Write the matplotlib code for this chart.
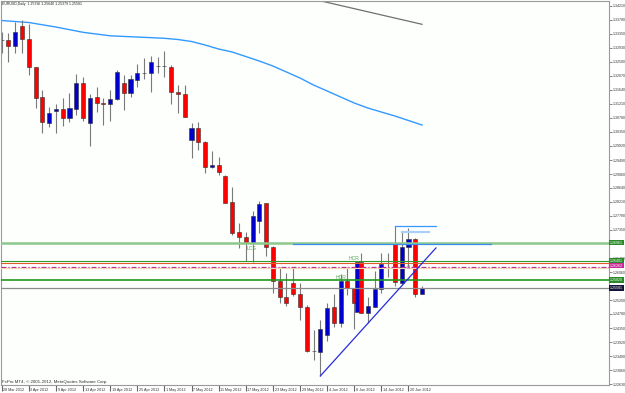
import matplotlib
matplotlib.use('Agg')
import matplotlib.pyplot as plt
from matplotlib.transforms import blended_transform_factory

plt.rcParams['font.family'] = ['Liberation Sans', 'DejaVu Sans']

header_text = "EURUSD,Daily  1.25396 1.25640 1.25379 1.25581"
copyright_text = "FxPro MT4, \u00a9 2001-2012, MetaQuotes Software Corp."

# ---- daily OHLC, 28 Mar 2012 .. 22 Jun 2012 ----
opens = [1.33151, 1.33161, 1.32986, 1.33589, 1.33191, 1.32326, 1.31408, 1.30631, 1.30998, 1.31050,
         1.30784, 1.31050, 1.31855, 1.30631, 1.31408, 1.31234, 1.31212, 1.31347, 1.31836, 1.31530,
         1.31937, 1.32154, 1.32160, 1.32356, 1.32371, 1.32344, 1.31561, 1.31509, 1.30102, 1.30478,
         1.30050, 1.29267, 1.29337, 1.29010, 1.28215, 1.27279, 1.27144, 1.26961, 1.27625, 1.28166,
         1.26838, 1.25799, 1.25291, 1.25719, 1.25392, 1.25003, 1.23650, 1.23627, 1.24138, 1.24985,
         1.24514, 1.25799, 1.25566, 1.26380, 1.24820, 1.25003, 1.25535, 1.26340, 1.26921, 1.25737,
         1.26820, 1.27065, 1.25396]
highs = [1.33414, 1.33384, 1.33720, 1.33772, 1.33650, 1.32344, 1.31631, 1.31102, 1.31203, 1.31396,
         1.31549, 1.32121, 1.32038, 1.31509, 1.31714, 1.31377, 1.31631, 1.32243, 1.32090, 1.32090,
         1.32427, 1.32601, 1.32680, 1.32650, 1.32824, 1.32396, 1.31784, 1.31784, 1.30631, 1.30662,
         1.30071, 1.29775, 1.29573, 1.29031, 1.28674, 1.27573, 1.27297, 1.27930, 1.28245, 1.28184,
         1.26860, 1.26227, 1.26025, 1.26227, 1.25719, 1.25055, 1.24291, 1.24581, 1.25107, 1.25392,
         1.25994, 1.26209, 1.25575, 1.26655, 1.25309, 1.26095, 1.26637, 1.26637, 1.27472, 1.27297,
         1.27401, 1.27105, 1.25640]
lows = [1.32754, 1.32497, 1.32754, 1.32754, 1.32090, 1.31072, 1.30325, 1.30490, 1.30307, 1.30530,
        1.30662, 1.30867, 1.30683, 1.29918, 1.30968, 1.30561, 1.30683, 1.31325, 1.31020, 1.31426,
        1.31714, 1.31959, 1.31561, 1.32142, 1.32038, 1.31203, 1.30937, 1.30806, 1.29542, 1.29796,
        1.29083, 1.29236, 1.29031, 1.28175, 1.27196, 1.26790, 1.26410, 1.26380, 1.27248, 1.26554,
        1.25431, 1.25126, 1.25025, 1.25331, 1.24597, 1.23609, 1.23373, 1.22884, 1.23954, 1.24392,
        1.24392, 1.25361, 1.24312, 1.24801, 1.24495, 1.24985, 1.25413, 1.25921, 1.25637, 1.25667,
        1.26218, 1.25300, 1.25379]
closes = [1.33170, 1.32986, 1.33405, 1.33182, 1.32326, 1.31396, 1.30653, 1.30919, 1.31041, 1.30784,
          1.31072, 1.31855, 1.30766, 1.31396, 1.31243, 1.31215, 1.31356, 1.32173, 1.31530, 1.31959,
          1.32160, 1.32166, 1.32497, 1.32371, 1.32356, 1.31561, 1.31509, 1.30815, 1.30478, 1.30050,
          1.29267, 1.29337, 1.29132, 1.28184, 1.27267, 1.27144, 1.26961, 1.27777, 1.28145, 1.26820,
          1.25799, 1.25309, 1.25126, 1.25392, 1.25003, 1.23640, 1.23650, 1.24312, 1.24973, 1.24495,
          1.25799, 1.25584, 1.25126, 1.24820, 1.25025, 1.25554, 1.26309, 1.26355, 1.25750, 1.26820,
          1.27065, 1.25392, 1.25581]

# extra blue block drawn next to 11 Jun bar
extra_block = {"bar": 52.4, "top": 1.26380, "bottom": 1.24850}

# moving averages
ma_blue_bars = [0, 4, 8, 12, 16, 20, 24, 26, 28, 30, 32, 34, 36, 38, 40, 42, 44, 46, 48, 50, 52, 54, 56, 58, 60, 62]
ma_blue_vals = [1.33757, 1.33696, 1.33558, 1.33396, 1.33289, 1.33252, 1.33213, 1.33176, 1.33115, 1.33008,
                1.32885, 1.32794, 1.32656, 1.32518, 1.32365, 1.32182, 1.31998, 1.31784, 1.31601, 1.31417,
                1.31234, 1.31081, 1.30958, 1.30836, 1.30698, 1.30561]
ma_gray_bars = [44, 50, 56, 62]
ma_gray_vals = [1.34503, 1.34216, 1.33928, 1.33641]

# horizontal levels
level_lightgreen = 1.26961
level_green_a = 1.26401
level_red = 1.26331
level_pink = 1.26227
level_beige = 1.26178
level_green_b = 1.25820
bid_price = 1.25581

blue_level = {"price": 1.26921, "start": 43.0, "end": 72.2}
top_level = {"price": 1.27472, "start": 58.0, "end": 64.05}
light_level = {"price": 1.27297, "start": 59.0, "end": 63.0}
trend_bars = [47, 64.05]
trend_prices = [1.22884, 1.26800]

annotations = [("LCS", 36.9, 1.26790), ("HCR", 52.0, 1.26471), ("HCR", 50.0, 1.25897)]
zero_label = ("0", 60.0, 1.26202)

date_bars = [0, 4, 8, 12, 16, 20, 24, 28, 32, 36, 40, 44, 48, 52, 56, 60]
date_labels = ["28 Mar 2012", "3 Apr 2012", "9 Apr 2012", "13 Apr 2012", "19 Apr 2012", "25 Apr 2012",
               "1 May 2012", "7 May 2012", "11 May 2012", "17 May 2012", "23 May 2012", "29 May 2012",
               "4 Jun 2012", "8 Jun 2012", "14 Jun 2012", "20 Jun 2012"]

price_ticks = [1.34210, 1.33780, 1.33350, 1.32930, 1.32500, 1.32070, 1.31640, 1.31210, 1.30780, 1.30350,
               1.29920, 1.29490, 1.29060, 1.28640, 1.28210, 1.27780, 1.27350, 1.26920, 1.26490, 1.26060,
               1.25630, 1.25200, 1.24780, 1.24350, 1.23920, 1.23490, 1.23060, 1.22630]
# tick labels that sit under the coloured price boxes
covered_ticks = [1.26920, 1.25630]

price_boxes = [(1.26961, "#2a8a2a", "white"), (1.26401, "#2a8a2a", "white"),
               (1.26262, "#cc2a9a", "white"), (1.25820, "#2a8a2a", "white"),
               (1.25581, "#141438", "white")]

# ---------------- figure ----------------
fig = plt.figure(figsize=(6.25, 3.93), dpi=100)
fig.patch.set_facecolor('white')
ax = fig.add_axes([1 / 625, 8 / 393, 607.5 / 625, 384 / 393])
ax.set_facecolor('#fdfffd')
ax.set_xlim(-0.1, 89.5)
ax.set_ylim(1.22608, 1.34354)

BLUE = '#0000cc'
RED = '#ff0000'
WICK = '#7a7a7a'
width = 0.6

n = len(opens)
xs = list(range(n))

ax.plot(ma_blue_bars, ma_blue_vals, color='#3399ff', lw=1.0, zorder=1)
ax.plot(ma_gray_bars, ma_gray_vals, color='#707070', lw=0.9, zorder=1)

ax.vlines(xs, lows, highs, color=WICK, lw=0.8, zorder=2)

ax.bar([extra_block["bar"]], [extra_block["top"] - extra_block["bottom"]], width=width,
       bottom=[extra_block["bottom"]], color=BLUE, edgecolor='#303030', lw=0.4, zorder=2.5)

for i in range(n):
    o, c = opens[i], closes[i]
    if abs(c - o) < 1e-6:
        col = '#404040'
    elif c > o:
        col = BLUE
    else:
        col = RED
    h = max(abs(c - o), 0.00010)
    z = 3 if i == 53 else 2.4
    ax.bar([i], [h], width=width, bottom=[min(o, c)], color=col, edgecolor='#303030', lw=0.4, zorder=z)

ax.axhline(level_lightgreen, color='#8cc88c', lw=1.8, zorder=3.5)
ax.axhline(level_green_a, color='#2f9a2f', lw=0.8, zorder=3.5)
ax.axhline(level_red, color='#e05a2a', lw=0.8, zorder=3.5)
ax.axhline(level_pink, color='#c0209a', lw=0.9, ls=(0, (4, 1.5, 1, 1.5)), zorder=3.5)
ax.axhline(level_beige, color='#f2d8b0', lw=0.8, zorder=3.5)
ax.axhline(level_green_b, color='#1f9a1f', lw=1.2, zorder=3.5)
ax.axhline(bid_price, color='#8a8a8a', lw=0.9, zorder=3.5)

ax.plot([blue_level["start"], blue_level["end"]], [blue_level["price"]] * 2, color='#3a8ef0', lw=0.9, zorder=3.6)
ax.plot([top_level["start"], top_level["end"]], [top_level["price"]] * 2, color='#3399ff', lw=0.9, zorder=3.6)
ax.plot([light_level["start"], light_level["end"]], [light_level["price"]] * 2, color='#a8d0f8', lw=1.6, zorder=3.6)
ax.plot(trend_bars, trend_prices, color='#2a2ae0', lw=0.9, zorder=3.7)

for txt, bx, py in annotations:
    ax.text(bx, py, txt, fontsize=3.7, color='#55a655', ha='center', va='center', zorder=4)
ax.text(zero_label[1], zero_label[2], zero_label[0], fontsize=4.2, color='#7a6ad8', ha='center', va='center', zorder=4)

for s in ax.spines.values():
    s.set_color('#9a9a9a')
    s.set_linewidth(0.8)

ax.yaxis.tick_right()
ax.set_yticks(price_ticks)
ax.set_yticklabels(['' if p in covered_ticks else '%.5f' % p for p in price_ticks])
ax.tick_params(axis='y', length=2.0, width=0.5, colors='#555555', labelsize=2.6, pad=1.0, labelcolor='#333333')

ax.set_xticks(date_bars)
ax.set_xticklabels([''] * len(date_bars))
ax.tick_params(axis='x', length=4, width=0.8, colors='#666666', direction='out')
tr = blended_transform_factory(ax.transData, ax.transAxes)
for b, lab in zip(date_bars, date_labels):
    ax.text(b + 0.25, -0.0125, lab, transform=tr, fontsize=2.7, color='#333333', ha='left', va='center', clip_on=False)

trb = blended_transform_factory(ax.transAxes, ax.transData)
for p, fc, tc in price_boxes:
    ax.text(1.0028, p, '%.5f' % p, transform=trb, fontsize=2.6, color=tc, ha='left', va='center',
            bbox=dict(boxstyle='square,pad=0.2', fc=fc, ec='none'), clip_on=False, zorder=6)

fig.text(2 / 625, 1 - 4.5 / 393, header_text, fontsize=2.5, color='#222222', ha='left', va='center')
fig.text(2 / 625, 1 - 381.5 / 393, copyright_text, fontsize=3.2, color='#333333', ha='left', va='center')

fig.savefig('out.png', dpi=100, facecolor='white')
